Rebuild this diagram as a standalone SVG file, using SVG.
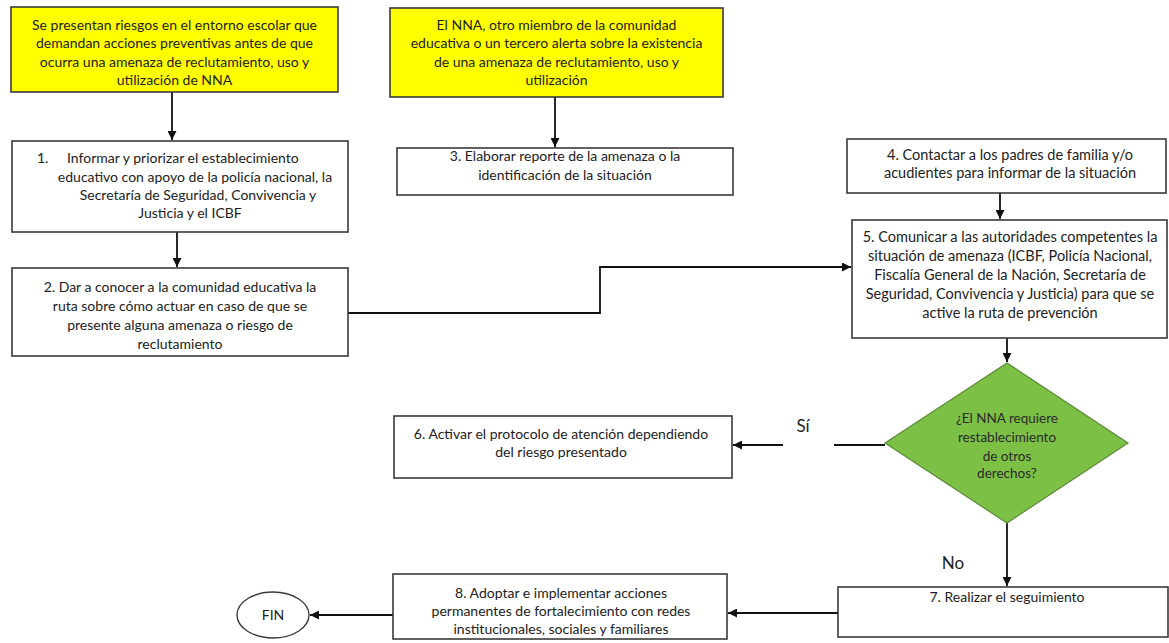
<svg xmlns="http://www.w3.org/2000/svg" width="1169" height="643" viewBox="0 0 1169 643">
<style>
.box{fill:#fff;stroke:#3a3a3a;stroke-width:1.6}
.yel{fill:#ffff00;stroke:#3a3a3a;stroke-width:1.6}
.dia{fill:#7cc046;stroke:#5a8a38;stroke-width:1.2}
text{font-family:Lato,"Liberation Sans",sans-serif;font-size:14px;fill:#222;text-anchor:middle}
.big{font-size:14.5px}
.lbl{font-size:17px}
.dt{font-size:13.5px;fill:#2a2a2a}
.con{fill:none;stroke:#111;stroke-width:1.8}
</style>
<defs>
<marker id="ah" viewBox="0 0 10 10" refX="10" refY="5" markerWidth="5" markerHeight="5" orient="auto" markerUnits="strokeWidth">
<path d="M0,0 L10,5 L0,10 z" fill="#111"/>
</marker>
</defs>
<rect width="1169" height="643" fill="#fff"/>
<g id="connectors">
<path class="con" d="M172,92 V140" marker-end="url(#ah)"/>
<path class="con" d="M555,97 V147" marker-end="url(#ah)"/>
<path class="con" d="M177,232 V267" marker-end="url(#ah)"/>
<path class="con" d="M1000,193 V219" marker-end="url(#ah)"/>
<path class="con" d="M348,313 H600 V267 H851" marker-end="url(#ah)"/>
<path class="con" d="M1007,338 V362" marker-end="url(#ah)"/>
<path class="con" d="M885,445 H834"/>
<path class="con" d="M783,445 H733" marker-end="url(#ah)"/>
<path class="con" d="M1007,523 V586" marker-end="url(#ah)"/>
<path class="con" d="M838,613 H728" marker-end="url(#ah)"/>
<path class="con" d="M393,615 H310" marker-end="url(#ah)"/>
</g>
<g id="start1">
<rect class="yel" x="11" y="7" width="327" height="85"/>
<text x="174.5" y="30">Se presentan riesgos en el entorno escolar que</text>
<text x="174.5" y="48">demandan acciones preventivas antes de que</text>
<text x="174.5" y="67">ocurra una amenaza de reclutamiento, uso y</text>
<text x="174.5" y="85">utilización de NNA</text>
</g>
<g id="start2">
<rect class="yel" x="390" y="8" width="333" height="89"/>
<text x="556.5" y="30">El NNA, otro miembro de la comunidad</text>
<text x="556.5" y="48">educativa o un tercero alerta sobre la existencia</text>
<text x="556.5" y="67">de una amenaza de reclutamiento, uso y</text>
<text x="556.5" y="85">utilización</text>
</g>
<g id="step1">
<rect class="box" x="12" y="141" width="336" height="91"/>
<text x="37" y="163" style="text-anchor:start">1.</text>
<text x="67" y="163" style="text-anchor:start">Informar y priorizar el establecimiento</text>
<text x="195" y="182">educativo con apoyo de la policía nacional, la</text>
<text x="198" y="200">Secretaría de Seguridad, Convivencia y</text>
<text x="190" y="218">Justicia y el ICBF</text>
</g>
<g id="step2">
<rect class="box" x="12" y="268" width="336" height="88"/>
<text x="180" y="292">2. Dar a conocer a la comunidad educativa la</text>
<text x="180" y="311">ruta sobre cómo actuar en caso de que se</text>
<text x="180" y="330">presente alguna amenaza o riesgo de</text>
<text x="180" y="349">reclutamiento</text>
</g>
<g id="step3">
<rect class="box" x="397" y="148" width="336" height="47"/>
<text x="565" y="161">3. Elaborar reporte de la amenaza o la</text>
<text x="565" y="180">identificación de la situación</text>
</g>
<g id="step4">
<rect class="box" x="847" y="139" width="319" height="54"/>
<text class="big" x="1010" y="160">4. Contactar a los padres de familia y/o</text>
<text class="big" x="1010" y="178">acudientes para informar de la situación</text>
</g>
<g id="step5">
<rect class="box" x="852" y="220" width="315" height="118"/>
<text class="big" x="1010" y="242">5. Comunicar a las autoridades competentes la</text>
<text class="big" x="1010" y="261">situación de amenaza (ICBF, Policía Nacional,</text>
<text class="big" x="1010" y="280">Fiscalía General de la Nación, Secretaría de</text>
<text class="big" x="1010" y="299">Seguridad, Convivencia y Justicia) para que se</text>
<text class="big" x="1010" y="318">active la ruta de prevención</text>
</g>
<g id="decision">
<polygon class="dia" points="1007,363 1128,443 1007,523 885,443"/>
<text class="dt" x="1007" y="423">¿El NNA requiere</text>
<text class="dt" x="1007" y="442">restablecimiento</text>
<text class="dt" x="1007" y="461">de otros</text>
<text class="dt" x="1007" y="478">derechos?</text>
</g>
<g id="labels">
<text class="lbl" x="803" y="432">Sí</text>
<text class="lbl" x="953" y="569">No</text>
</g>
<g id="step6">
<rect class="box" x="394" y="416" width="338" height="62"/>
<text x="561" y="439">6. Activar el protocolo de atención dependiendo</text>
<text x="561" y="457">del riesgo presentado</text>
</g>
<g id="step7">
<rect class="box" x="838" y="587" width="330" height="50"/>
<text x="1007" y="602">7. Realizar el seguimiento</text>
</g>
<g id="step8">
<rect class="box" x="393" y="574" width="334" height="65"/>
<text x="561" y="598">8.  Adoptar e implementar acciones</text>
<text x="561" y="616">permanentes de fortalecimiento con redes</text>
<text x="561" y="634">institucionales, sociales y familiares</text>
</g>
<g id="fin">
<ellipse cx="273" cy="615" rx="36" ry="23" fill="#fff" stroke="#3a3a3a" stroke-width="1.4"/>
<text x="273" y="620">FIN</text>
</g>
</svg>
